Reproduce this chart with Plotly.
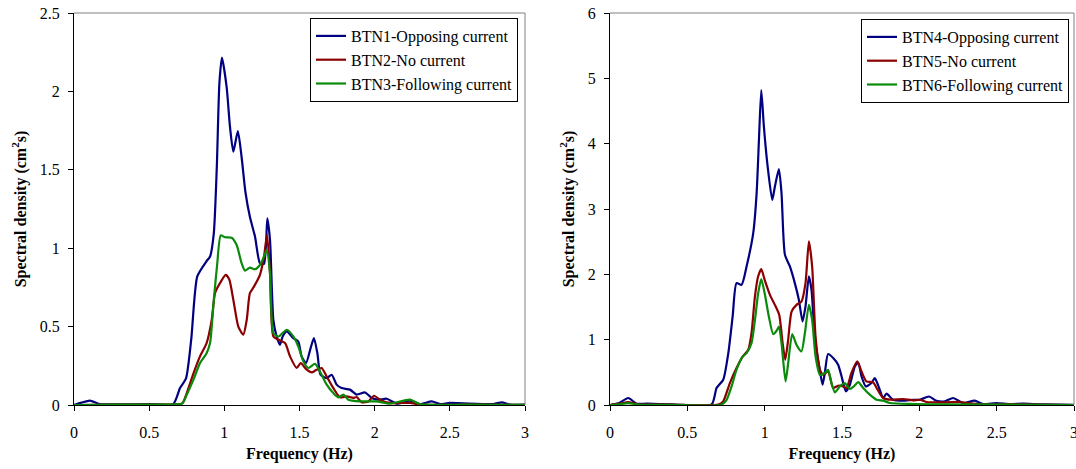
import plotly.graph_objects as go

# ---- Left panel data (BTN1-3) ----
f1 = [0.0, 0.05, 0.106, 0.17, 0.3, 0.5, 0.66, 0.705, 0.745, 0.78, 0.82, 0.88, 0.905, 0.93, 0.95, 0.967,
      0.984, 1.015, 1.038, 1.06, 1.09, 1.115, 1.14, 1.17, 1.204, 1.237, 1.264, 1.286, 1.304, 1.326,
      1.348, 1.37, 1.388, 1.415, 1.459, 1.492, 1.514, 1.543, 1.574, 1.596, 1.619, 1.64, 1.681, 1.714,
      1.747, 1.78, 1.836, 1.88, 1.936, 1.98, 2.024, 2.08, 2.146, 2.235, 2.3, 2.38, 2.435, 2.5, 2.79,
      2.845, 2.9, 3.0]
btn1 = [0.0, 0.015, 0.028, 0.006, 0.004, 0.006, 0.006, 0.108, 0.17, 0.42, 0.82, 0.915, 0.947, 1.095,
        1.52, 2.05, 2.215, 2.03, 1.77, 1.615, 1.747, 1.58, 1.36, 1.2, 1.074, 0.904, 0.9, 1.19, 1.05,
        0.543, 0.437, 0.384, 0.437, 0.469, 0.427, 0.405, 0.31, 0.267, 0.363, 0.427, 0.33, 0.193,
        0.172, 0.193, 0.13, 0.108, 0.098, 0.066, 0.08, 0.045, 0.034, 0.04, 0.008, 0.028, 0.006,
        0.023, 0.006, 0.013, 0.006, 0.017, 0.003, 0.002]

f2 = [0.0, 0.3, 0.6, 0.72, 0.75, 0.794, 0.838, 0.882, 0.916, 0.938, 0.971, 1.009, 1.033, 1.06, 1.093,
      1.126, 1.149, 1.17, 1.197, 1.237, 1.264, 1.284, 1.304, 1.326, 1.36, 1.404, 1.437, 1.481, 1.508,
      1.548, 1.581, 1.614, 1.647, 1.681, 1.725, 1.769, 1.814, 1.858, 1.88, 1.913, 1.958, 1.996, 2.035,
      2.1, 2.235, 2.3, 2.6, 3.0]
btn2 = [0.0, 0.003, 0.003, 0.01, 0.076, 0.2, 0.31, 0.395, 0.543, 0.713, 0.777, 0.83, 0.8, 0.67, 0.5,
        0.448, 0.543, 0.713, 0.755, 0.83, 0.947, 1.085, 0.84, 0.437, 0.416, 0.395, 0.31, 0.236,
        0.267, 0.225, 0.208, 0.225, 0.236, 0.182, 0.108, 0.049, 0.055, 0.045, 0.051, 0.017, 0.023,
        0.059, 0.034, 0.013, 0.013, 0.003, 0.002, 0.001]

f3 = [0.0, 0.3, 0.6, 0.72, 0.75, 0.794, 0.838, 0.882, 0.905, 0.93, 0.953, 0.976, 1.004, 1.049, 1.082,
      1.115, 1.137, 1.17, 1.204, 1.237, 1.264, 1.282, 1.304, 1.326, 1.36, 1.415, 1.459, 1.492, 1.526,
      1.559, 1.603, 1.636, 1.681, 1.725, 1.758, 1.792, 1.825, 1.902, 2.013, 2.1, 2.235, 2.3, 2.6, 3.0]
btn3 = [0.0, 0.003, 0.003, 0.01, 0.066, 0.16, 0.267, 0.33, 0.395, 0.67, 0.904, 1.082, 1.07, 1.067,
        1.02, 0.904, 0.857, 0.876, 0.866, 0.893, 0.947, 0.99, 0.84, 0.458, 0.437, 0.48, 0.437, 0.373,
        0.278, 0.236, 0.263, 0.214, 0.13, 0.076, 0.049, 0.066, 0.034, 0.023, 0.023, 0.008, 0.034,
        0.006, 0.002, 0.001]

# ---- Right panel data (BTN4-6) ----
f4 = [0.0, 0.06, 0.118, 0.172, 0.237, 0.4, 0.657, 0.689, 0.732, 0.765, 0.793, 0.818, 0.851, 0.883,
      0.926, 0.948, 0.963, 0.978, 0.995, 1.017, 1.049, 1.066, 1.092, 1.109, 1.131, 1.163, 1.195,
      1.221, 1.245, 1.264, 1.286, 1.303, 1.325, 1.353, 1.374, 1.389, 1.41, 1.443, 1.475, 1.497,
      1.525, 1.551, 1.583, 1.605, 1.626, 1.654, 1.69, 1.712, 1.74, 1.766, 1.788, 1.83, 1.895, 1.96,
      2.003, 2.063, 2.11, 2.165, 2.218, 2.283, 2.358, 2.412, 2.498, 2.585, 2.67, 2.78, 3.0]
btn4 = [0.0, 0.03, 0.107, 0.02, 0.02, 0.01, 0.01, 0.26, 0.387, 0.795, 1.355, 1.865, 1.84, 2.12, 2.63,
        3.24, 4.055, 4.82, 4.26, 3.7, 3.14, 3.34, 3.61, 3.24, 2.3, 2.12, 1.865, 1.61, 1.28, 1.51,
        1.97, 1.76, 1.0, 0.59, 0.31, 0.49, 0.78, 0.72, 0.616, 0.44, 0.21, 0.31, 0.59, 0.65, 0.44,
        0.285, 0.336, 0.41, 0.26, 0.107, 0.173, 0.08, 0.066, 0.08, 0.08, 0.13, 0.066, 0.056, 0.107,
        0.03, 0.066, 0.015, 0.03, 0.015, 0.02, 0.01, 0.002]

f5 = [0.0, 0.06, 0.118, 0.18, 0.4, 0.7, 0.732, 0.775, 0.818, 0.862, 0.894, 0.915, 0.937, 0.958, 0.978,
      1.0, 1.034, 1.066, 1.094, 1.116, 1.133, 1.152, 1.174, 1.206, 1.238, 1.264, 1.286, 1.307, 1.329,
      1.357, 1.378, 1.41, 1.443, 1.475, 1.508, 1.529, 1.561, 1.598, 1.626, 1.658, 1.701, 1.73, 1.766,
      1.82, 1.895, 1.96, 2.003, 2.046, 2.175, 2.261, 2.39, 2.6, 3.0]
btn5 = [0.0, 0.02, 0.046, 0.01, 0.005, 0.005, 0.056, 0.336, 0.565, 0.754, 0.846, 1.1, 1.66, 1.97, 2.08,
        1.915, 1.686, 1.533, 1.38, 0.948, 0.693, 1.0, 1.43, 1.533, 1.584, 1.865, 2.506, 2.12, 1.05,
        0.54, 0.464, 0.515, 0.26, 0.295, 0.285, 0.26, 0.49, 0.667, 0.515, 0.36, 0.346, 0.234, 0.107,
        0.08, 0.092, 0.071, 0.08, 0.046, 0.041, 0.046, 0.01, 0.01, 0.0]

f6 = [0.0, 0.06, 0.118, 0.18, 0.4, 0.72, 0.754, 0.786, 0.818, 0.855, 0.883, 0.915, 0.937, 0.958, 0.978,
      1.0, 1.027, 1.055, 1.077, 1.092, 1.109, 1.135, 1.152, 1.178, 1.206, 1.238, 1.26, 1.286, 1.307,
      1.329, 1.357, 1.389, 1.41, 1.432, 1.454, 1.486, 1.518, 1.551, 1.577, 1.605, 1.637, 1.68, 1.723,
      1.766, 1.81, 1.96, 2.175, 3.0]
btn6 = [0.0, 0.012, 0.03, 0.008, 0.004, 0.005, 0.08, 0.285, 0.54, 0.734, 0.795, 0.948, 1.3, 1.71, 1.926,
        1.71, 1.355, 1.085, 1.136, 1.2, 0.948, 0.36, 0.64, 1.085, 0.92, 0.82, 1.1, 1.533, 1.3, 0.744,
        0.464, 0.49, 0.54, 0.336, 0.194, 0.285, 0.336, 0.245, 0.285, 0.35, 0.26, 0.158, 0.08, 0.066,
        0.03, 0.015, 0.01, 0.0]

names_left = ["BTN1-Opposing current", "BTN2-No current", "BTN3-Following current"]
names_right = ["BTN4-Opposing current", "BTN5-No current", "BTN6-Following current"]
colors = ["#000080", "#8B0000", "#0A8A0A"]

FONT = "Liberation Serif"
FS = 16

fig = go.Figure()
for fx, vy, nm, c in zip([f1, f2, f3], [btn1, btn2, btn3], names_left, colors):
    fig.add_trace(go.Scatter(x=fx, y=vy, name=nm, mode="lines",
                             line=dict(color=c, width=2.2, shape="spline", smoothing=0.6),
                             xaxis="x", yaxis="y", legend="legend"))
for fx, vy, nm, c in zip([f4, f5, f6], [btn4, btn5, btn6], names_right, colors):
    fig.add_trace(go.Scatter(x=fx, y=vy, name=nm, mode="lines",
                             line=dict(color=c, width=2.2, shape="spline", smoothing=0.6),
                             xaxis="x2", yaxis="y2", legend="legend2"))

W, H = 1076, 469
ydom = [1 - 405 / H, 1 - 13 / H]

axis_common = dict(showline=True, linecolor="black", linewidth=1, ticks="outside",
                   ticklen=5, tickcolor="black", showgrid=False, zeroline=False,
                   automargin=False,
                   tickfont=dict(family=FONT, size=FS, color="black"))
title_font = dict(family=FONT, size=FS, color="black")

fig.update_layout(
    width=W, height=H,
    margin=dict(l=0, r=0, t=0, b=0, autoexpand=False),
    paper_bgcolor="white", plot_bgcolor="white",
    font=dict(family=FONT, size=FS, color="black"),
    xaxis=dict(domain=[74 / W, 525 / W], range=[0, 3], dtick=0.5, anchor="y",
               ticklabelstandoff=8,
               title=dict(text="<b>Frequency (Hz)</b>", font=title_font, standoff=7),
               **axis_common),
    yaxis=dict(domain=ydom, range=[0, 2.5], dtick=0.5, anchor="x",
               ticklabelstandoff=5,
               title=dict(text="<b>Spectral density (cm<sup>2</sup>s)</b>", font=title_font, standoff=9),
               **axis_common),
    xaxis2=dict(domain=[610 / W, 1074 / W], range=[0, 3], dtick=0.5, anchor="y2",
                ticklabelstandoff=8,
                title=dict(text="<b>Frequency (Hz)</b>", font=title_font, standoff=7),
                **axis_common),
    yaxis2=dict(domain=ydom, range=[0, 6], dtick=1, anchor="x2",
                ticklabelstandoff=5,
                title=dict(text="<b>Spectral density (cm<sup>2</sup>s)</b>", font=title_font, standoff=9),
                **axis_common),
    legend=dict(x=518 / W, y=1 - 18 / H, xanchor="right", yanchor="top",
                bgcolor="white", bordercolor="black", borderwidth=1,
                font=dict(family=FONT, size=FS, color="black"), itemwidth=30,
                tracegroupgap=0),
    legend2=dict(x=1069 / W, y=1 - 19 / H, xanchor="right", yanchor="top",
                 bgcolor="white", bordercolor="black", borderwidth=1,
                 font=dict(family=FONT, size=FS, color="black"), itemwidth=30,
                 tracegroupgap=0),
    showlegend=True,
)

# the last x tick label of the right panel runs off the page edge (partly visible)
fig.add_annotation(x=3, xref="x2", y=1 - 432 / H, yref="paper", text="3",
                   showarrow=False, xanchor="center", yanchor="middle",
                   font=dict(family=FONT, size=FS, color="black"))

# grey plot-area border on the top and right edges
for xr, yr in [("x domain", "y domain"), ("x2 domain", "y2 domain")]:
    fig.add_shape(type="line", xref=xr, yref=yr, x0=0, x1=1, y0=1, y1=1,
                  line=dict(color="#808080", width=1))
    fig.add_shape(type="line", xref=xr, yref=yr, x0=1, x1=1, y0=0, y1=1,
                  line=dict(color="#808080", width=1))

fig.write_html("out.html")
